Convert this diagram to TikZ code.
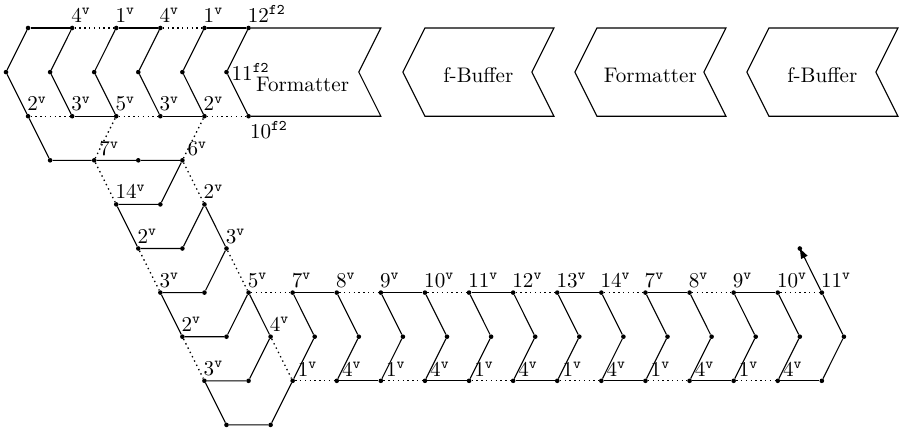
\documentclass[tikz,border=0pt]{standalone}
\usetikzlibrary{arrows.meta}
% label above right of a vertex
\newcommand\labA[2]{\node[lbl,anchor=south west] (#1l) at ([shift={(-2.2pt,4pt)}]#1) {$#2$};}
% label set a little further to the right
\newcommand\labB[2]{\node[lbl,anchor=south west] (#1l) at ([shift={(3.8pt,3pt)}]#1) {$#2$};}
\begin{document}
\begin{tikzpicture}[x=22.05pt, y=-44.1pt, shift={(6pt,-28pt)},
  txt/.style={scale=2.11, transform shape},
  dot/.style={circle, fill=black, inner sep=0pt, minimum size=4.6pt},
  lbl/.style={txt, inner sep=0.5pt},
  solidln/.style={line width=1.1pt},
  dotln/.style={line width=1.3pt, dash pattern=on 1.4pt off 3.4pt},
  chev/.style={line width=1.1pt, line join=miter},
]
\useasboundingbox (-0.2721,-0.6349) rectangle (41.2245,9.1610);

% ---------- vertices ----------
\foreach \i in {1,3,5,7,9,11} {
  \node[dot] (d\i x0) at (\i,0) {};
  \node[dot] (d\i x2) at (\i,2) {};
}
\foreach \i in {0,2,4,6,8,10} \node[dot] (d\i x1) at (\i,1) {};
\foreach \i in {2,4,6,8} \node[dot] (d\i x3) at (\i,3) {};
\foreach \i in {5,7,9} \node[dot] (d\i x4) at (\i,4) {};
\foreach \i in {6,8,10} \node[dot] (d\i x5) at (\i,5) {};
\foreach \i in {7,9,...,37} \node[dot] (d\i x6) at (\i,6) {};
\foreach \i in {8,10,...,38} \node[dot] (d\i x7) at (\i,7) {};
\foreach \i in {9,11,...,37} \node[dot] (d\i x8) at (\i,8) {};
\foreach \i in {10,12} \node[dot] (d\i x9) at (\i,9) {};

% ---------- upper strip ----------
\foreach \i in {1,3,...,11} {
  \pgfmathtruncatemacro\j{\i-1}
  \draw[solidln] (d\i x0) -- (d\j x1) -- (d\i x2);
}
\draw[solidln] (d1x0) -- (d3x0);
\draw[dotln]   (d3x0) -- (d5x0);
\draw[solidln] (d5x0) -- (d7x0);
\draw[dotln]   (d7x0) -- (d9x0);
\draw[solidln] (d9x0) -- (d11x0);
\draw[dotln]   (d1x2) -- (d3x2);
\draw[solidln] (d3x2) -- (d5x2);
\draw[dotln]   (d5x2) -- (d7x2);
\draw[solidln] (d7x2) -- (d9x2);
\draw[dotln]   (d9x2) -- (d11x2);

% first stage box, closed on the lattice
\draw[chev] (d11x0) -- (17,0) -- (16,1) -- (17,2) -- (d11x2);
\node[txt] (fmt) at (13.45,1.29) {Formatter};

% remaining pipeline stages
\foreach \s/\name [count=\k] in {18/f-Buffer, 25.8/Formatter, 33.6/f-Buffer} {
  \draw[chev] (\s,1) -- ++(1,-1) -- ++(5.85,0) -- ++(-1,1) -- ++(1,1) -- ++(-5.85,0) -- cycle;
  \node[txt] (blk\k) at (\s+3.42,1.07) {\name};
}

% ---------- descending part ----------
\draw[solidln] (d1x2) -- (d2x3) -- (d4x3) -- (d6x3) -- (d8x3);
\draw[dotln]   (d5x2) -- (d4x3) -- (d5x4);
\draw[dotln]   (d9x2) -- (d8x3) -- (d9x4);
\draw[solidln] (d8x3) -- (d7x4) -- (d5x4) -- (d6x5) -- (d8x5) -- (d9x4) -- (d10x5);
\draw[dotln]   (d6x5) -- (d7x6);
\draw[dotln]   (d10x5) -- (d11x6);
\draw[solidln] (d10x5) -- (d9x6) -- (d7x6) -- (d8x7) -- (d10x7) -- (d11x6) -- (d12x7);
\draw[dotln]   (d8x7) -- (d9x8);
\draw[dotln]   (d12x7) -- (d13x8);
\draw[solidln] (d12x7) -- (d11x8) -- (d9x8) -- (d10x9) -- (d12x9) -- (d13x8);

% ---------- long horizontal strip ----------
\foreach \i in {11,15,...,35} {\pgfmathtruncatemacro\j{\i+2}\draw[dotln] (d\i x6) -- (d\j x6);}
\foreach \i in {13,17,...,33} {\pgfmathtruncatemacro\j{\i+2}\draw[solidln] (d\i x6) -- (d\j x6);}
\foreach \i in {13,17,...,33} {\pgfmathtruncatemacro\j{\i+2}\draw[dotln] (d\i x8) -- (d\j x8);}
\foreach \i in {15,19,...,35} {\pgfmathtruncatemacro\j{\i+2}\draw[solidln] (d\i x8) -- (d\j x8);}
\foreach \i in {13,15,...,37} {
  \pgfmathtruncatemacro\j{\i+1}
  \draw[solidln] (d\i x6) -- (d\j x7) -- (d\i x8);
}
% outgoing arrow, its tip capped by a vertex dot
\draw[solidln, -{Triangle[length=10pt,width=7pt]}] (d37x6) -- (36,5) node[dot] (d36x5) {};

% ---------- labels ----------
\foreach \n/\txt in {d3x0/4, d5x0/1, d7x0/4, d9x0/1,
                     d1x2/2, d3x2/3, d5x2/5, d7x2/3, d9x2/2,
                     d5x4/14, d9x4/2, d6x5/2, d10x5/3, d7x6/3, d11x6/5,
                     d8x7/2, d12x7/4, d9x8/3}
  {\labA{\n}{\txt^{\mathtt{v}}}}
\foreach \n/\txt in {d4x3/7, d8x3/6} {\labB{\n}{\txt^{\mathtt{v}}}}
\foreach \i/\txt in {13/7,15/8,17/9,19/10,21/11,23/12,25/13,27/14,29/7,31/8,33/9,35/10,37/11}
  {\labA{d\i x6}{\txt^{\mathtt{v}}}}
\foreach \i/\txt in {13/1,15/4,17/1,19/4,21/1,23/4,25/1,27/4,29/1,31/4,33/1,35/4}
  {\labB{d\i x8}{\txt^{\mathtt{v}}}}
\labA{d11x0}{12^{\mathtt{f2}}}
\node[lbl,anchor=north west] (d11x2l) at ([shift={(0pt,-4pt)}]d11x2) {$10^{\mathtt{f2}}$};
\node[lbl,anchor=base west] (d10x1l) at ([shift={(3.7pt,-8pt)}]d10x1) {$11^{\mathtt{f2}}$};
\end{tikzpicture}
\end{document}
